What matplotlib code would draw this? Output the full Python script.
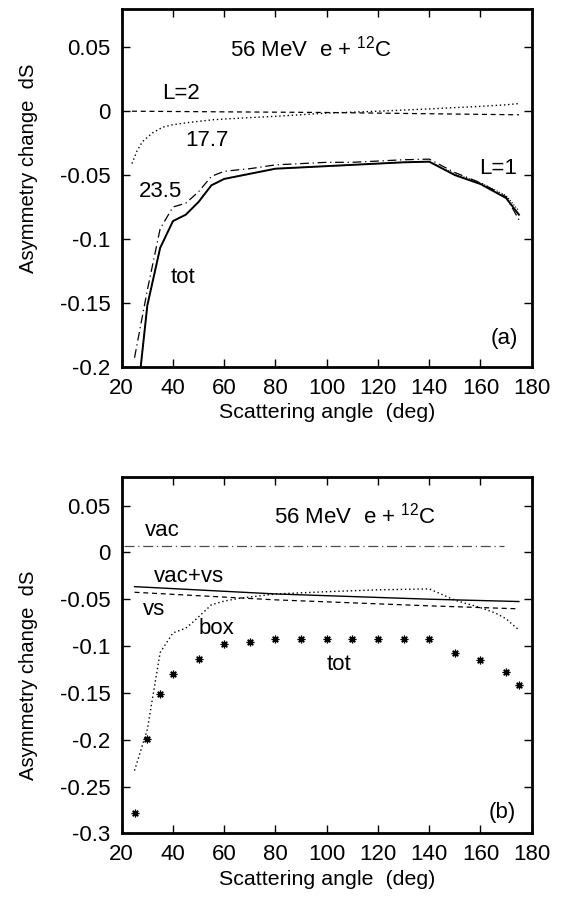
import matplotlib
matplotlib.use("Agg")
import matplotlib.pyplot as plt

plt.rcParams['font.family'] = ['Liberation Sans', 'DejaVu Sans']
plt.rcParams['mathtext.fontset'] = 'custom'
plt.rcParams['mathtext.rm'] = 'Liberation Sans'

# ---- panel (a) ----
ang_a = [25, 30, 35, 40, 45, 50, 55, 60, 70, 80, 90, 100, 110, 120, 130, 140, 150, 160, 170, 175]
tot_a = [-0.245, -0.152, -0.107, -0.086, -0.081, -0.071, -0.058, -0.053, -0.049, -0.045, -0.044,
         -0.043, -0.042, -0.041, -0.040, -0.0395, -0.050, -0.057, -0.068, -0.081]
l235_a = [-0.193, -0.140, -0.092, -0.075, -0.072, -0.063, -0.051, -0.047, -0.045, -0.042, -0.041,
          -0.040, -0.040, -0.039, -0.038, -0.0375, -0.048, -0.056, -0.067, -0.085]
l1_a = [-0.245, -0.152, -0.107, -0.086, -0.081, -0.071, -0.058, -0.053, -0.049, -0.045, -0.044,
        -0.043, -0.042, -0.041, -0.040, -0.0395, -0.049, -0.056, -0.066, -0.078]

ang_l2 = [24, 60, 100, 140, 175]
l2_a = [0.0, -0.0005, -0.001, -0.002, -0.0028]

ang_177 = [24, 26, 28, 32, 36, 40, 47, 56, 70, 80, 100, 120, 140, 160, 170, 175]
l177_a = [-0.041, -0.031, -0.024, -0.017, -0.0125, -0.0105, -0.0086, -0.0066, -0.005, -0.004,
          -0.0015, 0.0, 0.0018, 0.0038, 0.005, 0.006]

# ---- panel (b) ----
ang_vac = [21, 169]
vac_b = [0.0067, 0.0067]

ang_vs = [25, 80, 140, 175]
vacvs_b = [-0.0366, -0.0444, -0.050, -0.0525]
vs_b = [-0.0426, -0.0507, -0.0571, -0.0603]

ang_box = [25, 30, 35, 40, 45, 48, 55, 60, 66, 80, 100, 120, 140, 150, 160, 166, 170, 175]
box_b = [-0.233, -0.189, -0.107, -0.086, -0.081, -0.074, -0.056, -0.052, -0.049, -0.0444, -0.042,
         -0.040, -0.039, -0.051, -0.059, -0.065, -0.071, -0.083]

ang_tot = [25, 30, 35, 40, 50, 60, 70, 80, 90, 100, 110, 120, 130, 140, 150, 160, 170, 175]
tot_b = [-0.278, -0.199, -0.151, -0.130, -0.114, -0.098, -0.096, -0.093, -0.093, -0.093, -0.093,
         -0.093, -0.093, -0.093, -0.1075, -0.115, -0.128, -0.142]

xticks = [20, 40, 60, 80, 100, 120, 140, 160, 180]
yticks_a = [-0.2, -0.15, -0.1, -0.05, 0, 0.05]
yticks_b = [-0.3, -0.25, -0.2, -0.15, -0.1, -0.05, 0, 0.05]

fs = 16

fig = plt.figure(figsize=(5.64, 9.01), dpi=100)
ax1 = fig.add_axes([0.2158, 0.593, 0.727, 0.397])
ax2 = fig.add_axes([0.2158, 0.0751, 0.727, 0.395])


def fmt(v):
    if v == 0:
        return '0'
    return ('%g' % v)


for ax, yt, ylo, ylab_y in [(ax1, yticks_a, -0.2, 0.555), (ax2, yticks_b, -0.3, 0.445)]:
    ax.set_xlim(20, 180)
    ax.set_ylim(ylo, 0.08)
    ax.set_xticks(xticks)
    ax.set_yticks(yt)
    ax.set_yticklabels([fmt(v) for v in yt])
    ax.tick_params(direction='in', top=True, right=True, length=6, width=1,
                   labelsize=fs, pad=8)
    for s in ax.spines.values():
        s.set_linewidth(2)
    ax.set_xlabel('Scattering angle  (deg)', fontsize=15.4, labelpad=3)
    ax.set_ylabel('Asymmetry change  dS', fontsize=14.6)
    ax.yaxis.set_label_coords(-0.203, ylab_y)

# panel (a) lines
ax1.plot(ang_l2, l2_a, color='k', lw=0.9, ls=(0, (4, 3)))
ax1.plot(ang_177, l177_a, color='k', lw=1.0, ls=(0, (1, 2)))
ax1.plot(ang_a, l1_a, color='k', lw=0.8, ls=(0, (1, 1.5)))
ax1.plot(ang_a, l235_a, color='k', lw=0.9, ls=(0, (7, 3, 1, 3)))
ax1.plot(ang_a, tot_a, color='k', lw=1.4)

ax1.text(94, 0.0487, r'56 MeV  e + $^{12}$C', fontsize=fs, ha='center', va='center')
ax1.text(43, 0.0135, 'L=2', fontsize=fs, ha='center', va='center')
ax1.text(53.2, -0.023, '17.7', fontsize=fs, ha='center', va='center')
ax1.text(166.7, -0.045, 'L=1', fontsize=fs, ha='center', va='center')
ax1.text(35.3, -0.063, '23.5', fontsize=fs, ha='center', va='center')
ax1.text(44, -0.130, 'tot', fontsize=fs, ha='center', va='center')
ax1.text(169.2, -0.178, '(a)', fontsize=fs, ha='center', va='center')

# panel (b) lines
ax2.plot(ang_vac, vac_b, color='0.3', lw=0.9, ls=(0, (8, 3, 1, 3)))
ax2.plot(ang_vs, vacvs_b, color='k', lw=1.0)
ax2.plot(ang_vs, vs_b, color='k', lw=0.9, ls=(0, (4, 3)))
ax2.plot(ang_box, box_b, color='k', lw=1.0, ls=(0, (1, 2)))
ax2.plot(ang_tot, tot_b, ls='none', marker=(8, 2, 0), color='k', ms=5.5, mew=0.9)

ax2.text(111, 0.0397, r'56 MeV  e + $^{12}$C', fontsize=fs, ha='center', va='center')
ax2.text(35.9, 0.023, 'vac', fontsize=fs, ha='center', va='center')
ax2.text(46.3, -0.026, 'vac+vs', fontsize=fs, ha='center', va='center')
ax2.text(32.6, -0.0614, 'vs', fontsize=fs, ha='center', va='center')
ax2.text(56.8, -0.081, 'box', fontsize=fs, ha='center', va='center')
ax2.text(104.8, -0.12, 'tot', fontsize=fs, ha='center', va='center')
ax2.text(168.4, -0.2777, '(b)', fontsize=fs, ha='center', va='center')

fig.savefig('out.png', dpi=100)
